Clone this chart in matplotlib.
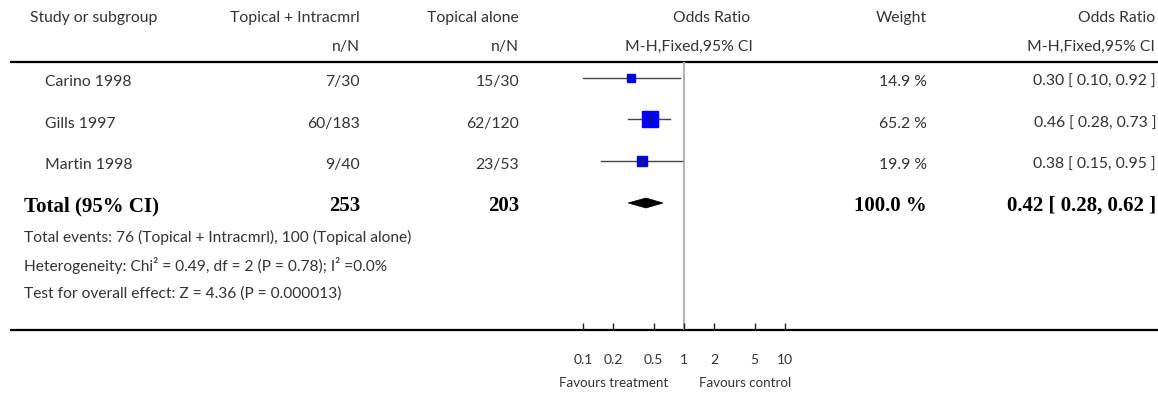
import matplotlib
matplotlib.use("Agg")
import matplotlib.pyplot as plt
from matplotlib.patches import Polygon

# ---------------- data ----------------
studies = ["Carino 1998", "Gills 1997", "Martin 1998"]
trt_events = [7, 60, 9]
trt_total = [30, 183, 40]
ctl_events = [15, 62, 23]
ctl_total = [30, 120, 53]
weights = [14.9, 65.2, 19.9]
odds = [0.30, 0.46, 0.38]
ci_low = [0.10, 0.28, 0.15]
ci_high = [0.92, 0.73, 0.95]

total_trt_n = 253
total_ctl_n = 203
total_weight = 100.0
total_or = 0.42
total_low = 0.28
total_high = 0.62

trt_label = "Topical + Intracmrl"
ctl_label = "Topical alone"
xticks = [0.1, 0.2, 0.5, 1, 2, 5, 10]
xtick_labels = ["0.1", "0.2", "0.5", "1", "2", "5", "10"]
footnotes = [
    "Total events: 76 (Topical + Intracmrl), 100 (Topical alone)",
    "Heterogeneity: Chi\u00b2 = 0.49, df = 2 (P = 0.78); I\u00b2 =0.0%",
    "Test for overall effect: Z = 4.36 (P = 0.000013)",
]

# ---------------- layout ----------------
W, H = 1158, 393
fig = plt.figure(figsize=(W / 100, H / 100), dpi=100)
bg = fig.add_axes([0, 0, 1, 1])
bg.set_xlim(0, W)
bg.set_ylim(H, 0)
bg.axis("off")

SANS = ["Lato", "DejaVu Sans"]
SERIF = ["Liberation Serif", "DejaVu Serif"]
TC = "#333333"
FS = 11.3

row_y = [82, 124, 165]
total_y = 206
col_study = 45
col_trt = 360
col_ctl = 519
col_or_hdr = 753
col_w = 927
col_or = 1156

def t(x, y, s, ha="left", **kw):
    kw.setdefault("fontsize", FS)
    kw.setdefault("color", TC)
    kw.setdefault("family", SANS)
    bg.text(x, y, s, ha=ha, va="center", **kw)

# header
t(30, 18, "Study or subgroup")
t(col_trt, 18, trt_label, ha="right")
t(col_ctl, 18, ctl_label, ha="right")
t(750, 18, "Odds Ratio", ha="right")
t(col_w, 18, "Weight", ha="right")
t(col_or - 1, 18, "Odds Ratio", ha="right")
t(col_trt, 47, "n/N", ha="right")
t(col_ctl, 47, "n/N", ha="right")
t(col_or_hdr, 47, "M-H,Fixed,95% CI", ha="right")
t(col_or - 1, 47, "M-H,Fixed,95% CI", ha="right")

bg.plot([10, W], [62, 62], color="black", lw=1.6, solid_capstyle="butt")
bg.plot([10, W], [330, 330], color="black", lw=1.6, solid_capstyle="butt")

for i, name in enumerate(studies):
    y = row_y[i]
    t(col_study, y, name)
    t(col_trt, y, f"{trt_events[i]}/{trt_total[i]}", ha="right")
    t(col_ctl, y, f"{ctl_events[i]}/{ctl_total[i]}", ha="right")
    t(col_w, y, f"{weights[i]:.1f} %", ha="right")
    t(col_or, y, f"{odds[i]:.2f} [ {ci_low[i]:.2f}, {ci_high[i]:.2f} ]", ha="right")

bold = dict(family=SERIF, fontweight="bold", fontsize=15, color="black")
t(24, total_y, "Total (95% CI)", **bold)
t(col_trt, total_y, f"{total_trt_n}", ha="right", **bold)
t(col_ctl, total_y, f"{total_ctl_n}", ha="right", **bold)
t(col_w, total_y, f"{total_weight:.1f} %", ha="right", **bold)
t(col_or, total_y, f"{total_or:.2f} [ {total_low:.2f}, {total_high:.2f} ]", ha="right", **bold)

for k, s in enumerate(footnotes):
    t(24, 237 + k * 28.5, s, fontsize=11.2)

# ---------------- forest axes ----------------
x0, x1 = 583, 785
ytop, ybot = 62, 330
ax = fig.add_axes([x0 / W, 1 - ybot / H, (x1 - x0) / W, (ybot - ytop) / H])
ax.set_xscale("log")
ax.set_xlim(0.1, 10)
ax.set_ylim(ybot, ytop)
ax.patch.set_visible(False)
for sp in ax.spines.values():
    sp.set_visible(False)
ax.set_yticks([])
ax.set_xticks(xticks)
ax.set_xticklabels(xtick_labels, family=SANS, fontsize=10, color=TC)
ax.minorticks_off()
ax.tick_params(axis="x", direction="in", length=5, width=1, color="#222222", pad=17)

ax.axvline(1, color="#b4b4b4", lw=1.5, zorder=1)

mark_y = [78, 119, 161]
for i in range(len(studies)):
    y = mark_y[i]
    ax.plot([ci_low[i], ci_high[i]], [y, y], color="#444444", lw=1.0, zorder=2)
    side_px = 2.1 * weights[i] ** 0.5
    ax.plot([odds[i]], [y], marker="s", ms=side_px * 0.72, color="#0000ff",
            mec="#0000ff", lw=0, zorder=3)
    ax.plot([odds[i], odds[i]], [y - 3, y + 3], color="#222222", lw=0.8, zorder=4)

dy = 203
diamond = Polygon([[total_low, dy], [total_or, dy - 5], [total_high, dy], [total_or, dy + 5]],
                  closed=True, facecolor="black", edgecolor="black", lw=0.5, zorder=3)
ax.add_patch(diamond)

bg.text(614, 383, "Favours treatment", ha="center", va="center", fontsize=9.6, color=TC, family=SANS)
bg.text(745, 383, "Favours control", ha="center", va="center", fontsize=9.6, color=TC, family=SANS)

fig.savefig("out.png", dpi=100)
